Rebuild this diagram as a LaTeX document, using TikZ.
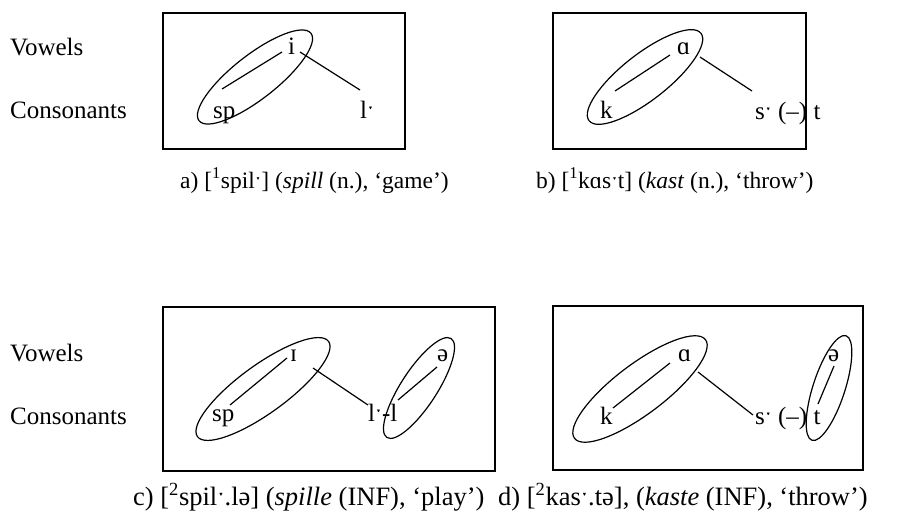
\documentclass[tikz,border=0pt]{standalone}
\usepackage{fontspec}
\setmainfont{Liberation Serif}
\usetikzlibrary{shapes.geometric}
\begin{document}
\begin{tikzpicture}[x=1pt,y=-1pt,
  every node/.style={font=\fontsize{25}{29}\selectfont, inner sep=0pt},
  txt/.style={anchor=base west},
  captop/.style={anchor=base west, font=\fontsize{23.5}{28}\selectfont},
  capbot/.style={anchor=base west, font=\fontsize{26.5}{31}\selectfont},
  panel/.style={draw, line width=1.2pt},
  assoc/.style={line width=1.2pt},
  grp/.style={draw, ellipse, line width=1.2pt, inner sep=0pt}]
\useasboundingbox (0,0) rectangle (908,522);
% row labels
\node[txt] (v1) at (10,55) {Vowels};
\node[txt] (c1) at (10,118) {Consonants};
\node[txt] (v2) at (10,361) {Vowels};
\node[txt] (c2) at (10,424) {Consonants};
% boxes
\draw[panel] (163,13) rectangle (405,149);
\draw[panel] (553,13) rectangle (806,149);
\draw[panel] (163,307) rectangle (495,471);
\draw[panel] (553,306) rectangle (863,470);
% panel a
\node[txt] (ai) at (288,54) {i};
\node[txt] (asp) at (213,118) {sp};
\node[txt] (al) at (360,118) {lˑ};
\node[grp, minimum width=142, minimum height=44, rotate=38] (ga) at (255,77) {};
\coordinate (a1) at (282,52); \coordinate (a2) at (222,89);
\coordinate (a3) at (300,52); \coordinate (a4) at (360,90);
\draw[assoc] (a1) -- (a2);
\draw[assoc] (a3) -- (a4);
% panel b
\node[txt] (ba) at (677,54) {ɑ};
\node[txt] (bk) at (600,118) {k};
\node[txt] (bs) at (755,119) {sˑ (–) t};
\node[grp, minimum width=142, minimum height=46, rotate=38] (gb) at (645,77) {};
\coordinate (b1) at (670,55); \coordinate (b2) at (615,91);
\coordinate (b3) at (700,57); \coordinate (b4) at (752,91);
\draw[assoc] (b1) -- (b2);
\draw[assoc] (b3) -- (b4);
% panel c
\node[txt] (ci) at (290,361) {ɪ};
\node[txt] (csp) at (212,421) {sp};
\node[txt] (cl) at (368,421) {lˑ-l};
\node[txt] (ce) at (437,361) {ə};
\node[grp, minimum width=162, minimum height=48, rotate=36] (gc1) at (263,389) {};
\node[grp, minimum width=118, minimum height=36, rotate=57] (gc2) at (419,388) {};
\coordinate (c1a) at (287,358); \coordinate (c1b) at (230,405);
\coordinate (c2a) at (313,368); \coordinate (c2b) at (368,405);
\coordinate (c3a) at (437,367); \coordinate (c3b) at (398,400);
\draw[assoc] (c1a) -- (c1b);
\draw[assoc] (c2a) -- (c2b);
\draw[assoc] (c3a) -- (c3b);
% panel d
\node[txt] (da) at (678,361) {ɑ};
\node[txt] (dk) at (600,424) {k};
\node[txt] (ds) at (755,424) {sˑ (–) t};
\node[txt] (de) at (828,361) {ə};
\node[grp, minimum width=164, minimum height=50, rotate=37] (gd1) at (640,389) {};
\node[grp, minimum width=110, minimum height=32, rotate=72] (gd2) at (829,388) {};
\coordinate (d1a) at (670,363); \coordinate (d1b) at (613,408);
\coordinate (d2a) at (698,372); \coordinate (d2b) at (753,415);
\coordinate (d3a) at (834,366); \coordinate (d3b) at (818,404);
\draw[assoc] (d1a) -- (d1b);
\draw[assoc] (d2a) -- (d2b);
\draw[assoc] (d3a) -- (d3b);
% captions
\node[captop] (capa) at (180,188) {a) [\textsuperscript{1}spilˑ] (\textit{spill} (n.), ‘game’)};
\node[captop] (capb) at (536,188) {b) [\textsuperscript{1}kɑsˑt] (\textit{kast} (n.), ‘throw’)};
\node[capbot] (capc) at (133,505) {c) [\textsuperscript{2}spilˑ.lə] (\textit{spille} (INF), ‘play’)};
\node[capbot] (capd) at (498,505) {d) [\textsuperscript{2}kasˑ.tə], (\textit{kaste} (INF), ‘throw’)};
\end{tikzpicture}
\end{document}
